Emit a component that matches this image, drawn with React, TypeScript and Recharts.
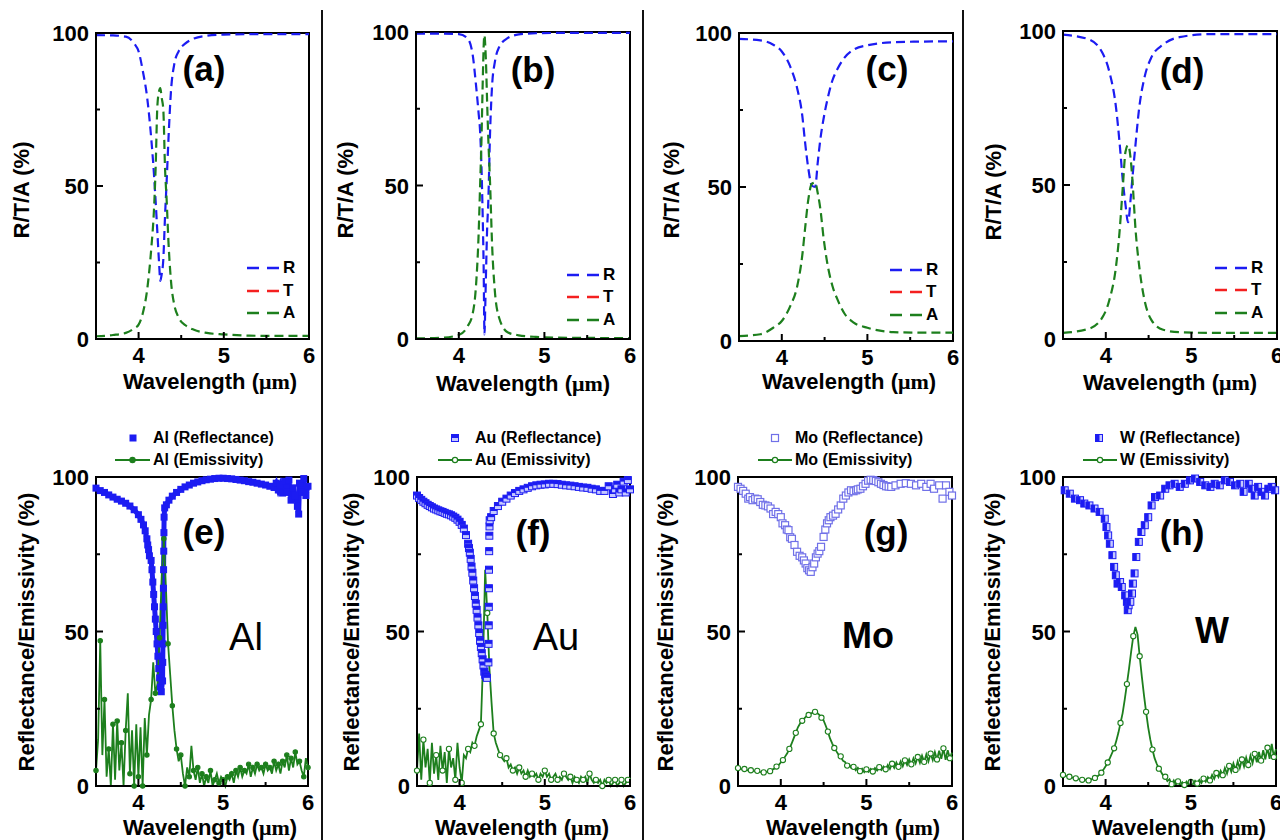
import React from "react";
import { ComposedChart, Line, Scatter, XAxis, YAxis, ReferenceArea } from "recharts";

const FONT = '"Liberation Sans", Arial, Helvetica, sans-serif';
const BLUE = "#1c1cf2";
const RED = "#f42020";
const GREEN = "#1d7f1d";
const LIGHT = "#c5c8ff";
const MO_BLUE = "#7070e8";

const xTicks = [4, 4.5, 5, 5.5, 6];
const yTicks = [0, 25, 50, 75, 100];

// ---- simulated R/T/A (top row) ----
const tWl = [3.5, 4.0, 4.5, 5.0, 5.5, 6.0];
const tVal = [0, 0, 0, 0, 0, 0];

const alSimWl = [3.5, 3.7, 3.85, 3.95, 4.0, 4.05, 4.1, 4.15, 4.18, 4.2, 4.22, 4.24, 4.255, 4.27, 4.29, 4.31, 4.33, 4.35, 4.38, 4.42, 4.47, 4.55, 4.65, 4.8, 5.0, 5.3, 5.6, 6.0];
const alSimR = [99.3, 99.2, 98.8, 96.5, 94, 87.5, 79, 65, 54, 45, 35, 25, 19, 21, 26, 40, 52, 65, 81, 90, 94, 96.6, 98.2, 99.1, 99.5, 99.6, 99.6, 99.6];
const alSimA = [0.9, 1.3, 2.0, 3.5, 4.7, 8.5, 16, 30, 42, 56, 76, 81, 82, 79, 75, 56, 45, 32, 19, 11, 7, 4.5, 3, 2, 1.5, 1.1, 1.0, 1.0];

const auSimWl = [3.5, 3.8, 4.0, 4.1, 4.16, 4.2, 4.23, 4.25, 4.265, 4.275, 4.285, 4.29, 4.3, 4.31, 4.32, 4.33, 4.345, 4.365, 4.39, 4.42, 4.47, 4.57, 4.7, 4.9, 5.3, 6.0];
const auSimR = [99.5, 99.5, 99.3, 98, 93, 83, 74, 67, 56, 45, 32, 24, 1.5, 12, 24, 35, 45, 67, 83, 90, 95, 98, 99.2, 99.6, 99.7, 99.7];
const auSimA = [0.2, 0.4, 1.3, 4, 8, 17, 33, 51, 65, 78, 90, 95, 99, 95, 88, 78, 65, 51, 30, 16, 7, 2.2, 1.2, 0.7, 0.4, 0.3];

const moSimWl = [3.5, 3.75, 3.9, 4.0, 4.1, 4.18, 4.24, 4.27, 4.31, 4.35, 4.39, 4.42, 4.45, 4.49, 4.53, 4.59, 4.65, 4.73, 4.84, 5.0, 5.3, 5.6, 6.0];
const moSimR = [98.1, 97.6, 96.2, 94, 89, 82, 73, 65, 56, 50.5, 50, 58, 65.4, 72.5, 78, 84.5, 88.3, 91.9, 94.6, 96, 97, 97.2, 97.3];
const moSimA = [1.6, 2.2, 4.3, 6.5, 11.4, 17.8, 28, 36, 46, 51, 51.5, 48, 43, 33, 25.5, 18, 13.5, 9, 6, 4.3, 2.9, 2.7, 2.7];

const wSimWl = [3.5, 3.8, 3.96, 4.04, 4.12, 4.16, 4.2, 4.23, 4.26, 4.29, 4.31, 4.35, 4.39, 4.45, 4.53, 4.67, 4.86, 5.22, 5.6, 6.0];
const wSimR = [98.8, 97.3, 92.9, 86.9, 75, 64, 51, 43.6, 37.9, 45.5, 52, 64, 75, 84.7, 91.3, 95.6, 98, 99, 99, 99];
const wSimA = [2, 3.3, 7, 12.5, 23.7, 34.6, 49.9, 60.8, 63, 58.6, 52, 34.6, 23.7, 12.9, 6.3, 3, 2.2, 2, 2, 2];

// ---- measured emissivity (bottom row), shared wavelength grid ----
const emisWl = [
  3.5, 3.525, 3.55, 3.575, 3.6, 3.625, 3.65, 3.675, 3.7, 3.725,
  3.75, 3.775, 3.8, 3.825, 3.85, 3.875, 3.9, 3.925, 3.95, 3.975,
  4.0, 4.025, 4.05, 4.075, 4.1, 4.125, 4.15, 4.175, 4.2, 4.225,
  4.25, 4.275, 4.3, 4.325, 4.35, 4.375, 4.4, 4.425, 4.45, 4.475,
  4.5, 4.525, 4.55, 4.575, 4.6, 4.625, 4.65, 4.675, 4.7, 4.725,
  4.75, 4.775, 4.8, 4.825, 4.85, 4.875, 4.9, 4.925, 4.95, 4.975,
  5.0, 5.025, 5.05, 5.075, 5.1, 5.125, 5.15, 5.175, 5.2, 5.225,
  5.25, 5.275, 5.3, 5.325, 5.35, 5.375, 5.4, 5.425, 5.45, 5.475,
  5.5, 5.525, 5.55, 5.575, 5.6, 5.625, 5.65, 5.675, 5.7, 5.725,
  5.75, 5.775, 5.8, 5.825, 5.85, 5.875, 5.9, 5.925, 5.95, 5.975,
  6.0,
];
const alEmis = [
  5, 15, 47, 10, 28, 3, 12, 0, 20, 2,
  21, 5, 14, 0, 18, 30, 4, 18, 0, 20,
  3, 19, 0, 22, 10, 23, 28, 40, 30, 33,
  48, 68, 80, 64, 46, 36, 26, 18, 12, 8,
  10, 4, 0, 6, 3, 13, 5, 2, 6, 1,
  4, 0, 3, 1, 5, 0, 2, 4, 1, 3,
  2, 0, 3, 2, 4, 1, 5, 3, 6, 3,
  5, 4, 7, 3, 6, 4, 7, 5, 6, 4,
  7, 5, 6, 4, 8, 5, 7, 4, 8, 6,
  10, 5, 9, 6, 11, 7, 8, 5, 3, 9,
  6,
];
const auEmis = [
  5, 17, 2, 15, 6, 12, 1, 14, 4, 10,
  2, 13, 5, 11, 1, 12, 6, 9, 2, 14,
  6, 1, 10, 9, 12, 11, 14, 13, 16, 18,
  20, 40, 70, 56, 38, 27, 17, 14, 12, 10,
  9, 8, 9, 6, 7, 5, 6, 4, 6, 4,
  5, 3, 5, 3, 4, 3, 4, 2, 4, 3,
  5, 3, 4, 2, 3, 4, 2, 3, 2, 4,
  3, 2, 3, 1, 3, 2, 1, 3, 2, 3,
  1, 4, 2, 1, 2, 1, 2, 0, 2, 1,
  2, 0, 1, 2, 0, 1, 2, 0, 1, 2,
  1,
];
const moEmis = [
  5.8, 5.6, 5.4, 5.5, 5.2, 5.0, 5.1, 4.9, 4.8, 4.9,
  4.6, 4.5, 4.4, 4.6, 4.5, 4.8, 5.3, 5.6, 6.3, 6.8,
  7.6, 8.4, 9.5, 10.6, 12.0, 13.6, 15.4, 17.2, 19.0, 20.2,
  21.1, 21.9, 22.6, 23.0, 23.4, 23.8, 24.0, 23.6, 23.0, 22.1,
  21.2, 19.5, 17.6, 15.4, 13.8, 12.3, 11.2, 10.1, 9.6, 8.2,
  7.8, 6.6, 6.9, 5.8, 6.2, 5.1, 5.9, 4.8, 5.6, 4.5,
  5.4, 4.6, 5.5, 4.7, 5.8, 5.0, 6.1, 5.2, 6.3, 5.4,
  6.8, 5.5, 7.2, 5.9, 7.6, 6.2, 8.0, 6.4, 8.3, 6.8,
  8.6, 7.0, 9.0, 7.3, 9.4, 7.5, 9.8, 7.8, 10.2, 8.0,
  10.5, 8.4, 11.0, 8.6, 11.4, 8.8, 12.2, 8.5, 11.6, 9.0,
  10.8,
];
const wEmis = [
  3.6, 3.3, 3.1, 3.0, 2.8, 2.6, 2.5, 2.3, 2.2, 2.0,
  2.0, 1.9, 1.8, 2.0, 2.4, 2.6, 3.0, 3.6, 4.3, 5.3,
  6.4, 7.6, 9.0, 10.6, 12.2, 14.6, 17.2, 20.4, 23.6, 28.0,
  33.0, 38.0, 43.5, 48.5, 51.5, 49.0, 42.0, 35.5, 29.5, 24.0,
  19.0, 15.0, 11.8, 9.0, 7.2, 5.6, 4.6, 3.4, 3.0, 1.6,
  2.2, 0.6, 1.8, 0.4, 1.5, 0.2, 1.2, 0.3, 1.4, 0.5,
  1.3, 0.6, 1.7, 0.8, 2.0, 1.0, 2.4, 1.4, 2.9, 1.8,
  3.6, 2.3, 4.2, 2.9, 4.9, 3.5, 5.8, 4.0, 6.5, 4.6,
  7.3, 5.2, 7.9, 5.8, 8.6, 6.3, 9.2, 6.8, 9.8, 7.4,
  10.4, 7.7, 11.0, 8.2, 11.6, 8.6, 12.4, 8.8, 13.6, 9.4,
  12.0,
];

// ---- measured reflectance (bottom row) ----
const alReflWl = [3.5, 3.55, 3.6, 3.65, 3.7, 3.75, 3.8, 3.85, 3.9, 3.95, 4.0, 4.03, 4.06, 4.08, 4.1, 4.11, 4.12, 4.13, 4.15, 4.16, 4.17, 4.18, 4.19, 4.2, 4.21, 4.22, 4.23, 4.24, 4.25, 4.26, 4.27, 4.285, 4.287, 4.289, 4.291, 4.293, 4.295, 4.297, 4.299, 4.301, 4.303, 4.31, 4.33, 4.36, 4.4, 4.45, 4.5, 4.55, 4.6, 4.65, 4.7, 4.75, 4.8, 4.85, 4.9, 4.95, 5.0, 5.05, 5.1, 5.15, 5.2, 5.25, 5.3, 5.35, 5.4, 5.45, 5.5, 5.55, 5.6, 5.625, 5.65, 5.675, 5.7, 5.725, 5.75, 5.775, 5.8, 5.825, 5.85, 5.875, 5.89, 5.9, 5.925, 5.95, 5.975, 6.0];
const alRefl = [96.4, 95.6, 95.0, 94.2, 93.5, 92.8, 92.2, 91.5, 90.6, 89.4, 87.8, 86.3, 84.5, 82.6, 80.0, 78.0, 76.5, 74.5, 73.0, 70.0, 66.0, 62.0, 58.0, 54.0, 50.0, 46.0, 42.0, 38.0, 35.0, 32.0, 30.5, 34, 40, 46, 52, 58, 64, 70, 76, 82, 87, 90, 91, 92.5, 93.8, 95, 96, 96.8, 97.4, 98, 98.4, 98.8, 99.1, 99.3, 99.5, 99.6, 99.6, 99.5, 99.4, 99.2, 99.0, 98.8, 98.5, 98.3, 98.0, 97.7, 97.4, 97.0, 96.6, 98.0, 95.8, 97.5, 94.8, 98.6, 95.0, 99.0, 92.5, 96.5, 94.0, 90.5, 88.0, 98.0, 95.0, 99.5, 94.0, 97.0];

const auReflWl = [3.5, 3.525, 3.55, 3.575, 3.6, 3.625, 3.65, 3.675, 3.7, 3.725, 3.75, 3.775, 3.8, 3.825, 3.85, 3.875, 3.9, 3.925, 3.95, 3.975, 4.0, 4.025, 4.05, 4.075, 4.1, 4.11, 4.12, 4.13, 4.14, 4.15, 4.16, 4.17, 4.18, 4.19, 4.2, 4.21, 4.22, 4.23, 4.24, 4.25, 4.26, 4.27, 4.28, 4.29, 4.3, 4.31, 4.32, 4.338, 4.34, 4.342, 4.343, 4.344, 4.345, 4.347, 4.349, 4.351, 4.353, 4.37, 4.4, 4.45, 4.5, 4.55, 4.6, 4.65, 4.7, 4.75, 4.8, 4.85, 4.9, 4.95, 5.0, 5.05, 5.1, 5.15, 5.2, 5.25, 5.3, 5.35, 5.4, 5.45, 5.5, 5.55, 5.6, 5.65, 5.7, 5.75, 5.8, 5.825, 5.85, 5.875, 5.9, 5.925, 5.95, 5.975, 6.0];
const auRefl = [94.0, 93.2, 92.6, 92.0, 91.5, 91.0, 90.6, 90.2, 89.8, 89.5, 89.2, 88.9, 88.7, 88.4, 88.1, 87.9, 87.6, 87.2, 86.8, 86.2, 85.5, 84.5, 83.3, 81.2, 78.4, 77.0, 75.5, 73.5, 71.0, 69.0, 66.5, 64.0, 61.5, 59.0, 57.0, 54.5, 52.0, 49.5, 47.0, 45.0, 43.0, 41.0, 39.0, 37.0, 36.0, 35.5, 35.0, 40, 46, 52, 58, 64, 70, 76, 81, 84, 86, 87, 89, 90.6, 92, 93, 94, 94.8, 95.5, 96, 96.5, 97, 97.3, 97.5, 97.6, 97.8, 97.8, 97.7, 97.5, 97.3, 97.2, 97.0, 96.8, 96.6, 96.5, 96.2, 96.0, 95.5, 95.5, 97.0, 94.5, 96, 97.5, 95, 96.0, 98.5, 95.0, 99.0, 96.0];

const moReflWl = [3.5, 3.53, 3.56, 3.59, 3.62, 3.64, 3.67, 3.7, 3.73, 3.76, 3.79, 3.82, 3.85, 3.88, 3.91, 3.94, 3.97, 4.0, 4.02, 4.05, 4.07, 4.09, 4.11, 4.13, 4.16, 4.19, 4.22, 4.25, 4.27, 4.29, 4.31, 4.33, 4.35, 4.37, 4.39, 4.41, 4.43, 4.45, 4.47, 4.5, 4.52, 4.54, 4.56, 4.58, 4.61, 4.64, 4.67, 4.7, 4.73, 4.76, 4.79, 4.82, 4.85, 4.88, 4.9, 4.93, 4.96, 4.99, 5.02, 5.05, 5.08, 5.11, 5.14, 5.17, 5.2, 5.23, 5.26, 5.29, 5.34, 5.4, 5.46, 5.52, 5.58, 5.64, 5.7, 5.75, 5.79, 5.85, 5.89, 5.93, 5.97, 6.0];
const moRefl = [96.8, 96.2, 95.5, 94.6, 93.0, 93.5, 92.5, 93.0, 92.8, 91.9, 91.0, 90.8, 90.5, 89.8, 88.0, 88.7, 88.0, 87.0, 85.0, 84.4, 83.0, 82.8, 80.5, 80.0, 78.0, 75.8, 74.5, 74.0, 73.0, 72.0, 70.5, 69.8, 69.3, 70.8, 72.0, 74.0, 75.2, 76.0, 77.4, 80.6, 83.0, 85.0, 86.0, 87.0, 87.5, 88.1, 89.5, 90.8, 93.0, 94.0, 95.0, 95.7, 95.4, 95.7, 96.0, 96.2, 97.0, 97.8, 98.8, 99.1, 99.0, 98.7, 98.3, 97.8, 97.4, 97.0, 96.9, 96.8, 97.3, 97.8, 98.0, 97.8, 97.3, 97.8, 96.8, 97.8, 96.2, 97.3, 93.0, 97.3, 95.2, 94.0];

const wReflWl = [3.52, 3.58, 3.64, 3.7, 3.75, 3.81, 3.87, 3.93, 3.99, 4.01, 4.03, 4.05, 4.08, 4.1, 4.12, 4.14, 4.17, 4.19, 4.23, 4.25, 4.26, 4.27, 4.29, 4.31, 4.32, 4.34, 4.36, 4.39, 4.42, 4.46, 4.5, 4.54, 4.58, 4.64, 4.7, 4.75, 4.81, 4.87, 4.93, 4.99, 5.05, 5.11, 5.17, 5.23, 5.28, 5.34, 5.4, 5.46, 5.52, 5.58, 5.62, 5.68, 5.72, 5.75, 5.79, 5.83, 5.87, 5.91, 5.95, 5.99];
const wRefl = [95.7, 94.6, 93.0, 92.5, 91.4, 90.8, 89.8, 88.7, 86.5, 83.8, 81.1, 78.4, 74.7, 70.9, 68.2, 65.5, 66.0, 64.4, 61.7, 59.6, 56.9, 58.5, 59.6, 62.3, 65.5, 68.8, 74.1, 79.0, 82.2, 84.4, 87.0, 90.8, 93.5, 94.0, 96.2, 97.3, 97.8, 96.8, 97.8, 98.9, 99.5, 98.4, 97.3, 96.8, 97.8, 97.3, 98.9, 98.4, 97.3, 97.8, 95.2, 97.8, 96.2, 94.0, 96.8, 95.2, 94.0, 96.2, 96.8, 95.7];

type Pt = { x: number; y: number };
const zip = (xs: number[], ys: number[]): Pt[] => xs.map((x, i) => ({ x, y: ys[i] }));

type Box = { l: number; t: number; r: number; b: number };

const ML = 60;
const MT = 12;
const MR = 12;
const XH = 40;

function renderXTick(p: any) {
  const { x, y, payload } = p;
  const v = payload.value as number;
  const major = Number.isInteger(v);
  return (
    <g>
      <line x1={x} x2={x} y1={y} y2={y - (major ? 7 : 4)} stroke="#000" strokeWidth={2} />
      {major && (
        <text x={x} y={y + 24} textAnchor="middle" fontSize={22} fontWeight="bold" fontFamily={FONT} fill="#000">
          {v}
        </text>
      )}
    </g>
  );
}

function renderYTick(p: any) {
  const { x, y, payload } = p;
  const v = payload.value as number;
  const major = v % 50 === 0;
  return (
    <g>
      <line x1={x} x2={x + (major ? 7 : 4)} y1={y} y2={y} stroke="#000" strokeWidth={2} />
      {major && (
        <text x={x - 7} y={y + 8} textAnchor="end" fontSize={22} fontWeight="bold" fontFamily={FONT} fill="#000">
          {v}
        </text>
      )}
    </g>
  );
}

function Plot({ box, children }: { box: Box; children: React.ReactNode }) {
  const w = box.r - box.l;
  const h = box.b - box.t;
  return (
    <div style={{ position: "absolute", left: box.l - ML, top: box.t - MT }}>
      <ComposedChart width={w + ML + MR} height={h + MT + XH} margin={{ top: MT, right: MR, bottom: 0, left: 0 }}>
        <XAxis
          type="number"
          dataKey="x"
          domain={[3.5, 6]}
          ticks={xTicks}
          interval={0}
          height={XH}
          tickSize={0}
          tickMargin={0}
          tickLine={false}
          axisLine={{ stroke: "#000", strokeWidth: 2 }}
          tick={renderXTick}
        />
        <YAxis
          type="number"
          dataKey="y"
          domain={[0, 100]}
          ticks={yTicks}
          interval={0}
          width={ML}
          tickSize={0}
          tickMargin={0}
          tickLine={false}
          axisLine={{ stroke: "#000", strokeWidth: 2 }}
          tick={renderYTick}
        />
        <ReferenceArea x1={3.5} x2={6} y1={0} y2={100} fill="none" stroke="#000" strokeWidth={2} />
        {children}
      </ComposedChart>
    </div>
  );
}

const abs = (x: number, y: number, extra: React.CSSProperties = {}): React.CSSProperties => ({
  position: "absolute",
  left: x,
  top: y,
  transform: "translate(-50%, -50%)",
  whiteSpace: "nowrap",
  lineHeight: 1,
  ...extra,
});

function WaveTitle({ x, y }: { x: number; y: number }) {
  return (
    <div style={abs(x, y, { fontSize: 22, fontWeight: "bold" })}>
      Wavelength (<span style={{ fontFamily: '"Liberation Serif", "DejaVu Serif", serif' }}>μm</span>)
    </div>
  );
}

function YTitle({ x, y, text }: { x: number; y: number; text: string }) {
  return <div style={abs(x, y, { fontSize: 22, fontWeight: "bold", transform: "translate(-50%, -50%) rotate(-90deg)" })}>{text}</div>;
}

const topLayout = [
  { box: { l: 96, t: 33, r: 309, b: 339 }, tag: [204, 68], yT: [22, 190], xT: [210, 382], legX: 247, legY: [268, 291, 313], label: "(a)" },
  { box: { l: 416, t: 32, r: 630, b: 339 }, tag: [533, 69], yT: [346, 190], xT: [523, 384], legX: 567, legY: [275, 297, 320], label: "(b)" },
  { box: { l: 739, t: 33, r: 953, b: 341 }, tag: [887, 68], yT: [672, 190], xT: [849, 382], legX: 890, legY: [270, 292, 315], label: "(c)" },
  { box: { l: 1063, t: 31, r: 1277, b: 339 }, tag: [1182, 70], yT: [994, 192], xT: [1170, 383], legX: 1215, legY: [268, 290, 313], label: "(d)" },
];

const topSeries = [
  { wl: alSimWl, r: alSimR, a: alSimA },
  { wl: auSimWl, r: auSimR, a: auSimA },
  { wl: moSimWl, r: moSimR, a: moSimA },
  { wl: wSimWl, r: wSimR, a: wSimA },
];

const bottomLayout = [
  { box: { l: 96, t: 477, r: 308, b: 786 }, tag: [204, 531], yT: [27, 632], xT: [210, 828], name: [246, 637], mk: 133, ln: [115, 150], tx: 153, label: "(e)" },
  { box: { l: 417, t: 477, r: 630, b: 786 }, tag: [533, 532], yT: [352, 632], xT: [522, 828], name: [556, 637], mk: 455, ln: [438, 472], tx: 475, label: "(f)" },
  { box: { l: 738, t: 477, r: 952, b: 786 }, tag: [886, 532], yT: [666, 632], xT: [853, 828], name: [868, 636], mk: 775, ln: [758, 792], tx: 795, label: "(g)" },
  { box: { l: 1063, t: 477, r: 1276, b: 786 }, tag: [1182, 532], yT: [993, 632], xT: [1179, 828], name: [1212, 631], mk: 1099, ln: [1083, 1117], tx: 1120, label: "(h)" },
];

type Kind = "al" | "au" | "mo" | "w";

const metals: { kind: Kind; name: string; reflWl: number[]; refl: number[]; emis: number[] }[] = [
  { kind: "al", name: "Al", reflWl: alReflWl, refl: alRefl, emis: alEmis },
  { kind: "au", name: "Au", reflWl: auReflWl, refl: auRefl, emis: auEmis },
  { kind: "mo", name: "Mo", reflWl: moReflWl, refl: moRefl, emis: moEmis },
  { kind: "w", name: "W", reflWl: wReflWl, refl: wRefl, emis: wEmis },
];

function squareMark(kind: Kind, cx: number, cy: number, key?: string) {
  if (kind === "al") return <rect key={key} x={cx - 3.5} y={cy - 3.5} width={7} height={7} fill={BLUE} />;
  if (kind === "mo")
    return <rect key={key} x={cx - 3.5} y={cy - 3.5} width={7} height={7} fill="#fff" stroke={MO_BLUE} strokeWidth={1.2} />;
  if (kind === "au")
    return (
      <g key={key}>
        <rect x={cx - 3.5} y={cy - 3.5} width={7} height={7} fill={LIGHT} stroke={BLUE} strokeWidth={1} />
        <rect x={cx - 3.5} y={cy - 3.5} width={7} height={3.5} fill={BLUE} />
      </g>
    );
  return (
    <g key={key}>
      <rect x={cx - 3.5} y={cy - 3.5} width={7} height={7} fill={LIGHT} stroke={BLUE} strokeWidth={1} />
      <rect x={cx - 3.5} y={cy - 3.5} width={4} height={7} fill={BLUE} />
    </g>
  );
}

const emisDot = (kind: Kind) => (p: any) => {
  const { cx, cy, index } = p;
  const every = kind === "al" ? 2 : 3;
  if (cx == null || index % every !== 0) return <g key={`d${index}`} />;
  return (
    <circle
      key={`d${index}`}
      cx={cx}
      cy={cy}
      r={kind === "al" ? 2.2 : 2.6}
      fill={kind === "al" ? GREEN : "#fff"}
      stroke={GREEN}
      strokeWidth={1.1}
    />
  );
};

function TopPanel({ i }: { i: number }) {
  const L = topLayout[i];
  const S = topSeries[i];
  const legend: [string, string][] = [
    ["R", BLUE],
    ["T", RED],
    ["A", GREEN],
  ];
  return (
    <>
      <Plot box={L.box}>
        <Line data={zip(tWl, tVal)} dataKey="y" type="linear" stroke={RED} strokeWidth={2.2} strokeDasharray="9 5" dot={false} isAnimationActive={false} />
        <Line data={zip(S.wl, S.r)} dataKey="y" type="monotone" stroke={BLUE} strokeWidth={2.2} strokeDasharray="9 5" dot={false} isAnimationActive={false} />
        <Line data={zip(S.wl, S.a)} dataKey="y" type="monotone" stroke={GREEN} strokeWidth={2.2} strokeDasharray="9 5" dot={false} isAnimationActive={false} />
      </Plot>
      <div style={abs(L.tag[0], L.tag[1], { fontSize: 35, fontWeight: "bold" })}>{L.label}</div>
      <YTitle x={L.yT[0]} y={L.yT[1]} text="R/T/A (%)" />
      <WaveTitle x={L.xT[0]} y={L.xT[1]} />
      {legend.map(([lab, col], k) => (
        <div key={lab} style={{ position: "absolute", left: L.legX, top: L.legY[k] - 11, height: 22, display: "flex", alignItems: "center" }}>
          <svg width={32} height={6}>
            <line x1={0} x2={32} y1={3} y2={3} stroke={col} strokeWidth={2.4} strokeDasharray="12 8" />
          </svg>
          <span style={{ marginLeft: 4, fontSize: 17, fontWeight: "bold" }}>{lab}</span>
        </div>
      ))}
    </>
  );
}

function BottomPanel({ i }: { i: number }) {
  const L = bottomLayout[i];
  const M = metals[i];
  const refl = zip(M.reflWl, M.refl);
  return (
    <>
      <Plot box={L.box}>
        {M.kind === "al" && (
          <Line data={refl} dataKey="y" type="linear" stroke={BLUE} strokeWidth={5} dot={false} isAnimationActive={false} />
        )}
        <Scatter
          data={refl}
          dataKey="y"
          fill={BLUE}
          isAnimationActive={false}
          shape={(p: any) => squareMark(M.kind, p.cx, p.cy)}
        />
        <Line
          data={zip(emisWl, M.emis)}
          dataKey="y"
          type="linear"
          stroke={GREEN}
          strokeWidth={1.8}
          dot={emisDot(M.kind)}
          isAnimationActive={false}
        />
      </Plot>
      <div style={abs(L.tag[0], L.tag[1], { fontSize: 35, fontWeight: "bold" })}>{L.label}</div>
      <div style={abs(L.name[0], L.name[1], { fontSize: M.kind === "al" || M.kind === "au" ? 38 : 36, fontWeight: M.kind === "al" || M.kind === "au" ? "normal" : "bold" })}>
        {M.name}
      </div>
      <YTitle x={L.yT[0]} y={L.yT[1]} text="Reflectance/Emissivity (%)" />
      <WaveTitle x={L.xT[0]} y={L.xT[1]} />
      <svg style={{ position: "absolute", left: L.ln[0] - 2, top: 427 }} width={L.ln[1] - L.ln[0] + 4} height={44}>
        {squareMark(M.kind, L.mk - L.ln[0] + 2, 11)}
        <line x1={2} x2={L.ln[1] - L.ln[0] + 2} y1={33} y2={33} stroke={GREEN} strokeWidth={2} />
        <circle
          cx={(L.ln[1] - L.ln[0]) / 2 + 2}
          cy={33}
          r={2.6}
          fill={M.kind === "al" ? GREEN : "#fff"}
          stroke={GREEN}
          strokeWidth={1.2}
        />
      </svg>
      <div style={{ position: "absolute", left: L.tx, top: 429, fontSize: 16, fontWeight: "bold", lineHeight: "18px", whiteSpace: "nowrap" }}>
        {M.name} (Reflectance)
      </div>
      <div style={{ position: "absolute", left: L.tx, top: 451, fontSize: 16, fontWeight: "bold", lineHeight: "18px", whiteSpace: "nowrap" }}>
        {M.name} (Emissivity)
      </div>
    </>
  );
}

const separators = [322, 643, 963];

export default function App() {
  return (
    <div
      style={{
        position: "absolute",
        left: 0,
        top: 0,
        width: 1280,
        height: 840,
        background: "#fff",
        overflow: "hidden",
        fontFamily: FONT,
        color: "#000",
      }}
    >
      {separators.map((x) => (
        <div key={x} style={{ position: "absolute", left: x - 1, top: 10, width: 2, height: 830, background: "#111" }} />
      ))}
      {[0, 1, 2, 3].map((i) => (
        <TopPanel key={`t${i}`} i={i} />
      ))}
      {[0, 1, 2, 3].map((i) => (
        <BottomPanel key={`b${i}`} i={i} />
      ))}
    </div>
  );
}
